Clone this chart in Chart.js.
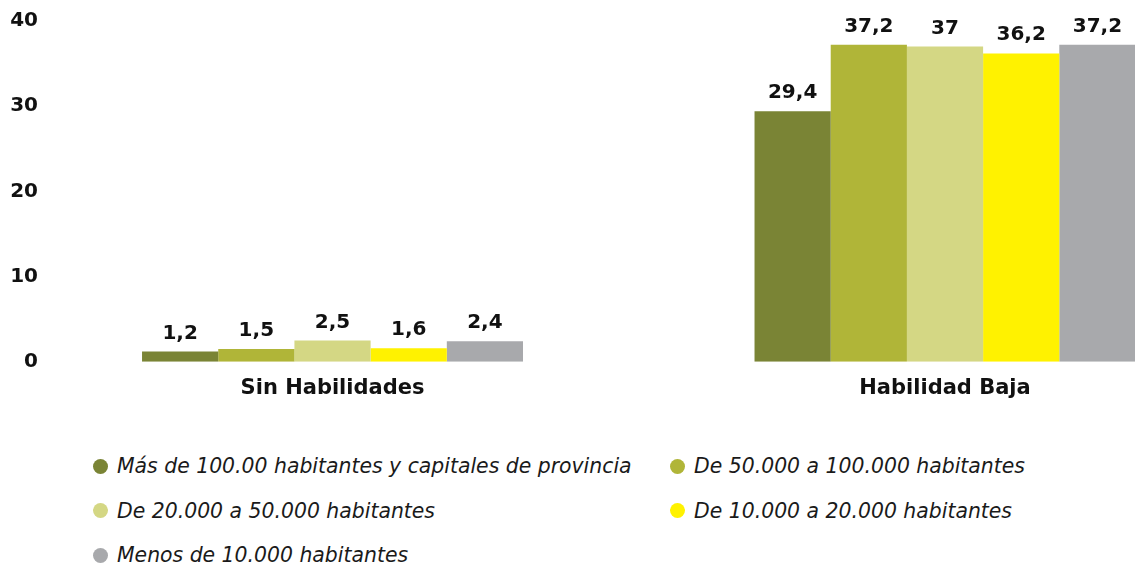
<!DOCTYPE html>
<html lang="es">
<head>
<meta charset="utf-8">
<title>Habilidades según tamaño de municipio</title>
<script src="https://cdn.jsdelivr.net/npm/chart.js@4.4.1/dist/chart.umd.min.js"></script>
<style>
  html, body { margin: 0; padding: 0; background: #ffffff; }
  #wrap { position: relative; width: 1135px; height: 565px; overflow: hidden; }
  #chartBox { position: absolute; left: 0; top: 0; width: 1135px; height: 420px; }
  #legend {
    position: absolute; left: 93px; top: 444px;
    display: grid; grid-template-columns: 577px auto; grid-auto-rows: 44.5px;
    align-items: center;
  }
  .lg-item { display: flex; align-items: center; white-space: nowrap;
             font: oblique 20.4px "DejaVu Sans", sans-serif; color: #1a1a1a; }
  .lg-dot { display: block; width: 15px; height: 15px; border-radius: 50%; margin-right: 9px; flex: none; }
</style>
</head>
<body>
<div id="wrap">
  <div id="chartBox"><canvas id="chart"></canvas></div>
  <div id="legend"></div>
</div>
<script>
// Categories (skill level) and one series per municipality size
const categories = ['Sin Habilidades', 'Habilidad Baja'];

const seriesNames = [
  'Más de 100.00 habitantes y capitales de provincia',
  'De 50.000 a 100.000 habitantes',
  'De 20.000 a 50.000 habitantes',
  'De 10.000 a 20.000 habitantes',
  'Menos de 10.000 habitantes'
];

const masDe100000 = [1.2, 29.4];
const de50000a100000 = [1.5, 37.2];
const de20000a50000 = [2.5, 37];
const de10000a20000 = [1.6, 36.2];
const menosDe10000 = [2.4, 37.2];

const seriesColors = ['#7a8435', '#b0b538', '#d4d784', '#fff200', '#a8a9ac'];

const yTicks = [0, 10, 20, 30, 40];

const FONT = '"DejaVu Sans", sans-serif';

const seriesValues = [masDe100000, de50000a100000, de20000a50000, de10000a20000, menosDe10000];

const datasets = seriesValues.map((vals, i) => ({
  label: seriesNames[i],
  data: vals.map((v, k) => ({ x: k, y: v })),
  backgroundColor: seriesColors[i],
  borderWidth: 0,
  categoryPercentage: 0.622,
  barPercentage: 1.0
}));

// Value labels above each bar, decimal comma
const valueLabels = {
  id: 'valueLabels',
  afterDatasetsDraw(chart) {
    const ctx = chart.ctx;
    ctx.save();
    ctx.font = 'bold 20px ' + FONT;
    ctx.fillStyle = '#111111';
    ctx.textAlign = 'center';
    ctx.textBaseline = 'alphabetic';
    chart.data.datasets.forEach((ds, di) => {
      const meta = chart.getDatasetMeta(di);
      meta.data.forEach((bar, k) => {
        const v = ds.data[k].y;
        ctx.fillText(String(v).replace('.', ','), bar.x, bar.y - 13);
      });
    });
    ctx.restore();
  }
};

// HTML legend with round markers in two columns
const htmlLegend = {
  id: 'htmlLegend',
  afterUpdate(chart) {
    const box = document.getElementById('legend');
    box.innerHTML = '';
    chart.options.plugins.legend.labels.generateLabels(chart).forEach(item => {
      const el = document.createElement('div');
      el.className = 'lg-item';
      const dot = document.createElement('span');
      dot.className = 'lg-dot';
      dot.style.background = item.fillStyle;
      const txt = document.createElement('span');
      txt.textContent = item.text;
      el.appendChild(dot);
      el.appendChild(txt);
      box.appendChild(el);
    });
  }
};

new Chart(document.getElementById('chart'), {
  type: 'bar',
  data: { datasets },
  options: {
    responsive: true,
    maintainAspectRatio: false,
    animation: false,
    layout: { padding: { top: 21, bottom: 5, left: 0, right: 0 } },
    plugins: {
      legend: { display: false },
      tooltip: { enabled: false }
    },
    scales: {
      x: {
        type: 'linear',
        offset: false,
        min: -0.4678,
        max: 1.3102,
        grid: { display: false, offset: false, drawTicks: false },
        border: { display: false },
        ticks: {
          stepSize: 1,
          includeBounds: false,
          autoSkip: false,
          maxRotation: 0,
          padding: 14,
          color: '#111111',
          font: { family: FONT, size: 21, weight: 'bold' },
          callback: (value) => Number.isInteger(value) && categories[value] !== undefined ? categories[value] : ''
        }
      },
      y: {
        min: yTicks[0],
        max: yTicks[yTicks.length - 1],
        afterFit: (scale) => { scale.width = 46; },
        afterBuildTicks: (scale) => { scale.ticks = yTicks.map(v => ({ value: v })); },
        grid: { display: false, drawTicks: false },
        border: { display: false },
        ticks: {
          padding: 8,
          color: '#111111',
          font: { family: FONT, size: 20, weight: 'bold' }
        }
      }
    }
  },
  plugins: [valueLabels, htmlLegend]
});
</script>
</body>
</html>
